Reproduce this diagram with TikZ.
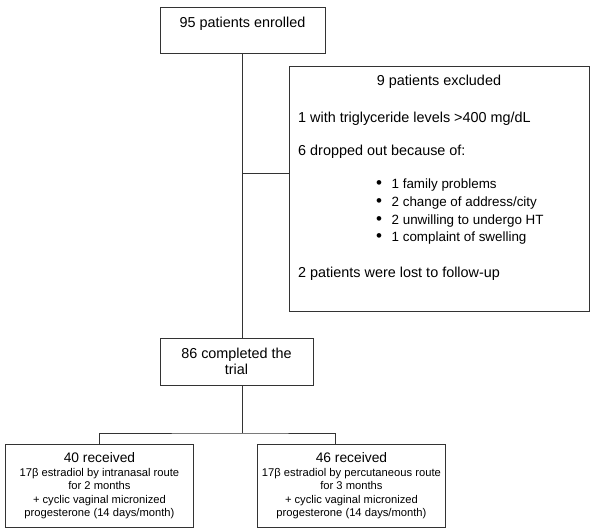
\documentclass[tikz,border=0pt]{standalone}
\usepackage{fontspec}
\setmainfont{Liberation Sans}
\usetikzlibrary{positioning}

\tikzset{
  box/.style={draw=black!80, line width=0.9pt, inner sep=0pt, align=center,
    font=\fontsize{14.4}{16}\selectfont},
  armbox/.style={box, anchor=north west, minimum width=188, minimum height=83,
    font=\fontsize{11.2}{13.5}\selectfont},
  txt/.style={inner sep=0pt, anchor=base west, font=\fontsize{14.4}{16}\selectfont},
  itemtxt/.style={txt, font=\fontsize{13.4}{15}\selectfont},
  link/.style={draw=black!80, line width=0.9pt}
}

\begin{document}
\begin{tikzpicture}[x=1pt,y=-1pt,line join=miter]
\useasboundingbox (0,0) rectangle (600,532);

\node[box, anchor=north, minimum width=165, text height=20, text depth=26] (enrolled) at (242.5,7) {95 patients enrolled};

\node[box, anchor=north west, minimum width=300, minimum height=245] (excluded) at (289,66) {};
\node[txt, anchor=base] (exclhead) at (439,86) {9 patients excluded};
\node[txt] (trig) at (298,123) {1 with triglyceride levels >400 mg/dL};
\node[txt] (dropped) at (298,156) {6 dropped out because of:};
\foreach \y/\why [count=\i] in {189/{1 family problems}, 206.5/{2 change of address/city},
    224/{2 unwilling to undergo HT}, 241.5/{1 complaint of swelling}}
  \node[itemtxt] (why\i) at (376,\y) {{\fontsize{17}{17}\selectfont\textbullet}\hspace{9.5pt}\why};
\node[txt] (lost) at (298,277) {2 patients were lost to follow-up};

\node[box, minimum width=153, minimum height=47] (completed) at (236.5,361.5) {86 completed the\\trial};

\node[armbox] (intranasal) at (5,444) {{\fontsize{13.8}{15}\selectfont 40 received}\\
  17β estradiol by intranasal route\\for 2 months\\+ cyclic vaginal micronized\\
  progesterone (14 days/month)};
\node[armbox] (percutaneous) at (257,444) {{\fontsize{13.8}{15}\selectfont 46 received}\\
  17β estradiol by percutaneous route\\for 3 months\\+ cyclic vaginal micronized\\
  progesterone (14 days/month)};

\coordinate (tap) at (242.5,173);
\coordinate (split) at (242.5,433);
\coordinate (percin) at (335,444);

\draw[link] (enrolled.south) -- (enrolled.south |- completed.north);
\draw[link] (tap) -- (tap -| excluded.west);
\draw[link] (split |- completed.south) -- (split);
\draw[link] (intranasal.north) |- (split) -| (percin);
\end{tikzpicture}
\end{document}
